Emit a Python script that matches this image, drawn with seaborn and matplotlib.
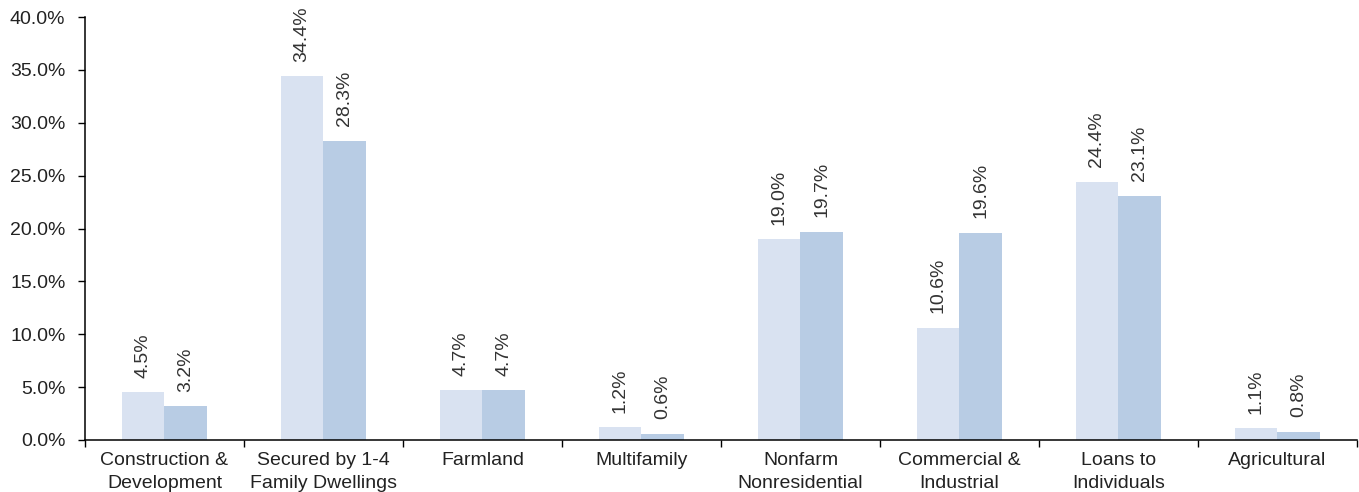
import matplotlib
matplotlib.use("Agg")
import matplotlib.pyplot as plt
import pandas as pd
import seaborn as sns

# ── Données ──────────────────────────────────────────────
categories = [
    "Construction &\nDevelopment", "Secured by 1-4\nFamily Dwellings", "Farmland",
    "Multifamily", "Nonfarm\nNonresidential", "Commercial &\nIndustrial",
    "Loans to\nIndividuals", "Agricultural",
]
series_names = ["Series 1", "Series 2"]
values_1 = [4.5, 34.4, 4.7, 1.2, 19.0, 10.6, 24.4, 1.1]
values_2 = [3.2, 28.3, 4.7, 0.6, 19.7, 19.6, 23.1, 0.8]
yticks = [0, 5, 10, 15, 20, 25, 30, 35, 40]

df = pd.DataFrame({
    "categorie": categories * 2,
    "serie": [series_names[0]] * 8 + [series_names[1]] * 8,
    "valeur": values_1 + values_2,
})

sns.set_style("white")
plt.rcParams["font.family"] = ["Liberation Sans", "DejaVu Sans"]
FS = 14

fig = plt.figure(figsize=(13.59, 4.92), dpi=100)
ax = fig.add_axes([0.0625, 0.1057, 0.936, 0.8597])

sns.barplot(data=df, x="categorie", y="valeur", hue="serie", order=categories,
            palette=["#D9E2F1", "#B8CCE4"], width=0.54, saturation=1,
            linewidth=0, legend=False, ax=ax)

# étiquettes de valeur verticales au-dessus des barres
for cont, vals in zip(ax.containers, [values_1, values_2]):
    ax.bar_label(cont, labels=[f"{v:.1f}%" for v in vals], rotation=90,
                 padding=10.5, fontsize=FS, color="#333333")

ax.set_ylim(0, 40)
ax.set_xlim(-0.5, 7.5)
ax.set_yticks(yticks)
ax.set_yticklabels([f"{t:.1f}%" for t in yticks], fontsize=FS, color="#222222")
ax.set_xticks(range(len(categories)))
ax.set_xticklabels(categories, fontsize=FS, color="#222222", linespacing=1.4)
# graduations entre les catégories
ax.set_xticks([i - 0.5 for i in range(len(categories) + 1)], minor=True)
ax.tick_params(axis="x", which="major", length=0, pad=9)
ax.tick_params(axis="x", which="minor", length=5, width=1, color="black", direction="out", bottom=True)
ax.tick_params(axis="y", length=5, width=1, color="black", direction="out", left=True, pad=9)
ax.set_xlabel("")
ax.set_ylabel("")

sns.despine(ax=ax)
for s in ["left", "bottom"]:
    ax.spines[s].set_color("black")
    ax.spines[s].set_linewidth(1.1)

fig.savefig("out.png", dpi=100)
